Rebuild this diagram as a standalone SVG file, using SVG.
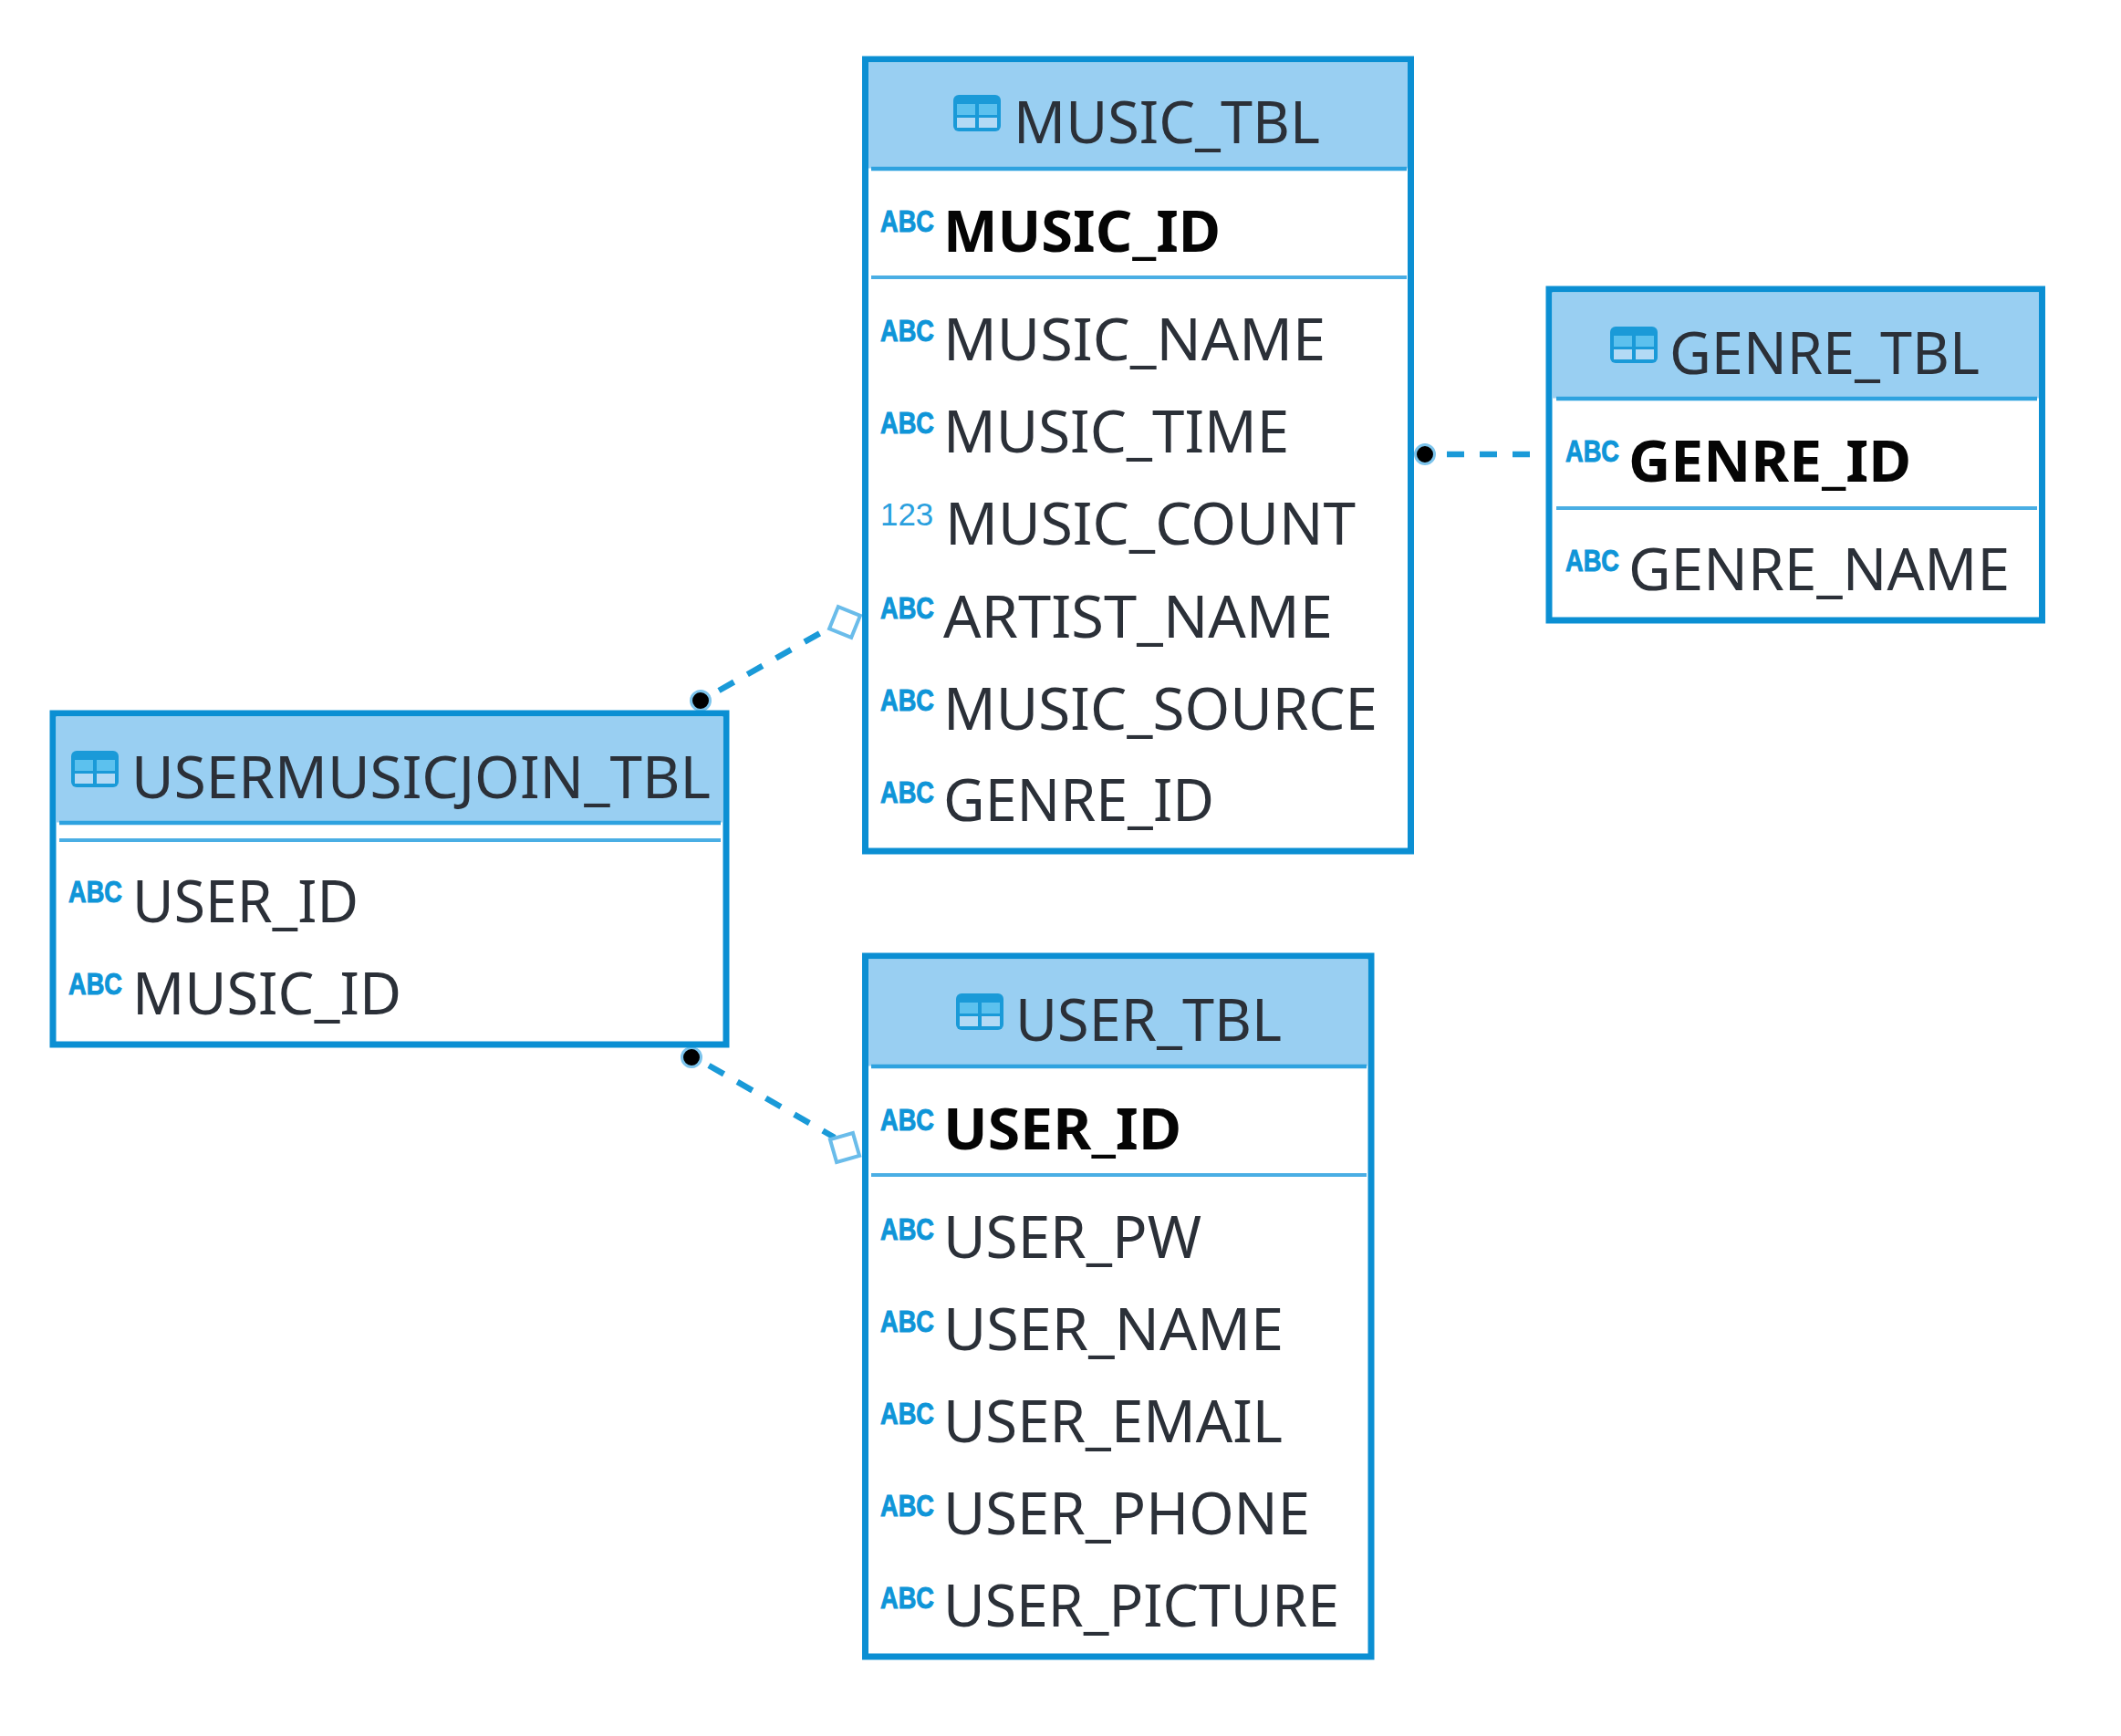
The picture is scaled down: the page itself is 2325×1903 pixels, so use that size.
<svg xmlns="http://www.w3.org/2000/svg" xmlns:xlink="http://www.w3.org/1999/xlink" width="2325" height="1903" viewBox="0 0 2325 1903">
<style>
.box{fill:#fff;stroke:#0b8fd3;stroke-width:7}
.hd{fill:#99cff2}
.l1{stroke:#2ea2df;stroke-width:4.5;fill:none}
.l2{stroke:#4aaee4;stroke-width:4;fill:none}
.t{font-family:"Noto Sans","Open Sans",sans-serif;font-size:63px;fill:#2b3038}
.pk{font-family:"Noto Sans","Open Sans",sans-serif;font-size:63px;font-weight:700;fill:#050505}
.abc{font-family:"Liberation Sans",sans-serif;font-size:34px;font-weight:700;fill:#0f95d8;stroke:#0f95d8;stroke-width:1}
.num{font-family:"Liberation Sans",sans-serif;font-size:36px;fill:#2aa0de}
.dash{stroke:#1a9ad8;stroke-width:6.5;stroke-dasharray:19 17;fill:none}
.dot{fill:#000;stroke:#7cc4ec;stroke-width:3}
.sq{fill:#fff;stroke:#6abcea;stroke-width:4}
</style>
<defs>
<g id="ti">
<rect x="0" y="0" width="52" height="40" rx="6" fill="#1a9ad8"/>
<rect x="4" y="10" width="20" height="12" fill="#5cc1ee"/>
<rect x="28" y="10" width="20" height="12" fill="#5cc1ee"/>
<rect x="4" y="25" width="20" height="11" fill="#b3daf5"/>
<rect x="28" y="25" width="20" height="11" fill="#b3daf5"/>
</g>
</defs>
<rect width="2325" height="1903" fill="#fff"/>
<g id="connectors">
<line class="dash" x1="788" y1="757" x2="899" y2="694"/>
<line class="dash" x1="777" y1="1168" x2="915" y2="1247"/>
<line class="dash" x1="1586" y1="498" x2="1677" y2="498"/>
<circle class="dot" cx="768" cy="768" r="10.500"/>
<circle class="dot" cx="758" cy="1159" r="10.500"/>
<circle class="dot" cx="1562" cy="498" r="10.500"/>
<rect class="sq" x="913" y="669" width="26" height="26" transform="rotate(22 926 682)"/>
<rect class="sq" x="913" y="1245" width="26" height="26" transform="rotate(-16 926 1258)"/>
</g>
<g id="music_tbl">
<rect class="box" x="948.5" y="65" width="598" height="868"/>
<rect class="hd" x="952" y="68.500" width="591" height="116"/>
<line class="l1" x1="955" x2="1542" y1="185" y2="185"/>
<line class="l2" x1="955" x2="1542" y1="304" y2="304"/>
<use xlink:href="#ti" href="#ti" x="1045" y="104"/>
<text class="t" x="1111" y="157" textLength="336" lengthAdjust="spacingAndGlyphs">MUSIC_TBL</text>
<text class="abc" transform="translate(965 254) scale(.8 1)">ABC</text>
<text class="pk" x="1034" y="276" textLength="304" lengthAdjust="spacingAndGlyphs">MUSIC_ID</text>
<text class="abc" transform="translate(965 374) scale(.8 1)">ABC</text>
<text class="t" x="1034" y="395" textLength="419" lengthAdjust="spacingAndGlyphs">MUSIC_NAME</text>
<text class="abc" transform="translate(965 475) scale(.8 1)">ABC</text>
<text class="t" x="1034" y="496" textLength="379" lengthAdjust="spacingAndGlyphs">MUSIC_TIME</text>
<text class="num" transform="translate(965 576) scale(.97 1)">123</text>
<text class="t" x="1036" y="597" textLength="450" lengthAdjust="spacingAndGlyphs">MUSIC_COUNT</text>
<text class="abc" transform="translate(965 678) scale(.8 1)">ABC</text>
<text class="t" x="1034" y="699" textLength="427" lengthAdjust="spacingAndGlyphs">ARTIST_NAME</text>
<text class="abc" transform="translate(965 779) scale(.8 1)">ABC</text>
<text class="t" x="1034" y="800" textLength="476" lengthAdjust="spacingAndGlyphs">MUSIC_SOURCE</text>
<text class="abc" transform="translate(965 880) scale(.8 1)">ABC</text>
<text class="t" x="1034" y="900" textLength="297" lengthAdjust="spacingAndGlyphs">GENRE_ID</text>
</g>
<g id="genre_tbl">
<rect class="box" x="1698" y="317" width="540.500" height="363"/>
<rect class="hd" x="1701.500" y="320.500" width="533.500" height="116"/>
<line class="l1" x1="1706" x2="2233" y1="437" y2="437"/>
<line class="l2" x1="1706" x2="2233" y1="557" y2="557"/>
<use xlink:href="#ti" href="#ti" x="1765" y="358"/>
<text class="t" x="1830" y="410" textLength="340" lengthAdjust="spacingAndGlyphs">GENRE_TBL</text>
<text class="abc" transform="translate(1716 506) scale(.8 1)">ABC</text>
<text class="pk" x="1785" y="528" textLength="310" lengthAdjust="spacingAndGlyphs">GENRE_ID</text>
<text class="abc" transform="translate(1716 626) scale(.8 1)">ABC</text>
<text class="t" x="1785" y="647" textLength="418" lengthAdjust="spacingAndGlyphs">GENRE_NAME</text>
</g>
<g id="usermusicjoin_tbl">
<rect class="box" x="58" y="782" width="738" height="363"/>
<rect class="hd" x="61.500" y="785.500" width="731" height="116"/>
<line class="l1" x1="65" x2="790" y1="902" y2="902"/>
<line class="l2" x1="65" x2="790" y1="921" y2="921"/>
<use xlink:href="#ti" href="#ti" x="78" y="823"/>
<text class="t" x="144" y="875" textLength="635" lengthAdjust="spacingAndGlyphs">USERMUSICJOIN_TBL</text>
<text class="abc" transform="translate(75 989) scale(.8 1)">ABC</text>
<text class="t" x="145" y="1011" textLength="248" lengthAdjust="spacingAndGlyphs">USER_ID</text>
<text class="abc" transform="translate(75 1090) scale(.8 1)">ABC</text>
<text class="t" x="145" y="1112" textLength="295" lengthAdjust="spacingAndGlyphs">MUSIC_ID</text>
</g>
<g id="user_tbl">
<rect class="box" x="948.5" y="1048" width="554.5" height="768"/>
<rect class="hd" x="952" y="1051.500" width="547.500" height="117"/>
<line class="l1" x1="955" x2="1498" y1="1169" y2="1169"/>
<line class="l2" x1="955" x2="1498" y1="1288" y2="1288"/>
<use xlink:href="#ti" href="#ti" x="1048" y="1089"/>
<text class="t" x="1113" y="1141" textLength="292" lengthAdjust="spacingAndGlyphs">USER_TBL</text>
<text class="abc" transform="translate(965 1239) scale(.8 1)">ABC</text>
<text class="pk" x="1034" y="1260" textLength="261" lengthAdjust="spacingAndGlyphs">USER_ID</text>
<text class="abc" transform="translate(965 1359) scale(.8 1)">ABC</text>
<text class="t" x="1034" y="1379" textLength="283" lengthAdjust="spacingAndGlyphs">USER_PW</text>
<text class="abc" transform="translate(965 1460) scale(.8 1)">ABC</text>
<text class="t" x="1034" y="1480" textLength="373" lengthAdjust="spacingAndGlyphs">USER_NAME</text>
<text class="abc" transform="translate(965 1561) scale(.8 1)">ABC</text>
<text class="t" x="1034" y="1581" textLength="372" lengthAdjust="spacingAndGlyphs">USER_EMAIL</text>
<text class="abc" transform="translate(965 1662) scale(.8 1)">ABC</text>
<text class="t" x="1034" y="1682" textLength="402" lengthAdjust="spacingAndGlyphs">USER_PHONE</text>
<text class="abc" transform="translate(965 1763) scale(.8 1)">ABC</text>
<text class="t" x="1034" y="1783" textLength="434" lengthAdjust="spacingAndGlyphs">USER_PICTURE</text>
</g>
</svg>
